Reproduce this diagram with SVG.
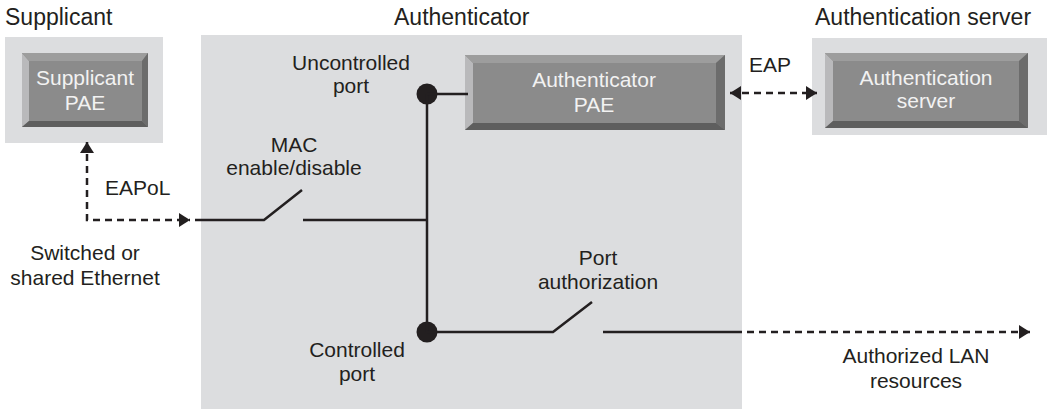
<svg xmlns="http://www.w3.org/2000/svg" width="1053" height="409" viewBox="0 0 1053 409">
<style>
.bg{fill:#dcdddf}
.face{fill:#8b8b8b}
.bl{fill:#b9b9bb}
.bt{fill:#9d9d9d}
.br{fill:#6c6c6c}
.bb{fill:#5e5e5e}
.t{font-family:"Liberation Sans",Arial,sans-serif;fill:#231f20}
.title{font-size:23px}
.lbl{font-size:21px}
.bt-txt{font-family:"Liberation Sans",Arial,sans-serif;font-size:21px;fill:#f2f2f2;text-anchor:middle}
.ln{fill:none;stroke:#231f20;stroke-width:2.5}
.dash{fill:none;stroke:#231f20;stroke-width:2.5;stroke-dasharray:7 5}
.dot{fill:#231f20}
</style>
<defs>
<marker id="ah" markerUnits="userSpaceOnUse" markerWidth="12" markerHeight="14" refX="11" refY="7" orient="auto-start-reverse">
<path d="M0,0 L11,7 L0,14 z" fill="#231f20"/>
</marker>
</defs>

<g id="supplicant">
<rect class="bg" x="5" y="37" width="158" height="106"/>
<rect class="face" x="22" y="53" width="126" height="74"/>
<polygon class="bl" points="22,53 29,61 29,121 22,127"/>
<polygon class="bt" points="22,53 148,53 142,61 29,61"/>
<polygon class="br" points="148,53 148,127 142,121 142,61"/>
<polygon class="bb" points="22,127 148,127 142,121 29,121"/>
<text class="bt-txt" x="85" y="85">Supplicant</text>
<text class="bt-txt" x="85" y="110">PAE</text>
<text class="t title" x="5" y="25">Supplicant</text>
</g>

<g id="authenticator">
<rect class="bg" x="201" y="35" width="541" height="374"/>
<text class="t title" x="394" y="25">Authenticator</text>
</g>

<g id="authenticator-pae">
<rect class="face" x="465" y="55" width="260" height="75"/>
<polygon class="bl" points="465,55 473,63 473,123 465,130"/>
<polygon class="bt" points="465,55 725,55 716,63 473,63"/>
<polygon class="br" points="725,55 725,130 716,123 716,63"/>
<polygon class="bb" points="465,130 725,130 716,123 473,123"/>
<text class="bt-txt" x="594" y="87">Authenticator</text>
<text class="bt-txt" x="594" y="112">PAE</text>
</g>

<g id="authentication-server">
<rect class="bg" x="812" y="38" width="235" height="97"/>
<rect class="face" x="825" y="53" width="203" height="75"/>
<polygon class="bl" points="825,53 833,61 833,121 825,128"/>
<polygon class="bt" points="825,53 1028,53 1019,61 833,61"/>
<polygon class="br" points="1028,53 1028,128 1019,121 1019,61"/>
<polygon class="bb" points="825,128 1028,128 1019,121 833,121"/>
<text class="bt-txt" x="926" y="85">Authentication</text>
<text class="bt-txt" x="926" y="108">server</text>
<text class="t title" x="815" y="25">Authentication server</text>
</g>

<g id="uncontrolled-port">
<circle class="dot" cx="427" cy="94" r="10.5"/>
<text class="t lbl" x="351" y="70" text-anchor="middle">Uncontrolled</text>
<text class="t lbl" x="351" y="93" text-anchor="middle">port</text>
</g>

<g id="controlled-port">
<circle class="dot" cx="427" cy="332" r="10.5"/>
<text class="t lbl" x="357" y="357" text-anchor="middle">Controlled</text>
<text class="t lbl" x="357" y="381" text-anchor="middle">port</text>
</g>

<g id="mac-switch">
<text class="t lbl" x="294" y="152" text-anchor="middle">MAC</text>
<text class="t lbl" x="294" y="175" text-anchor="middle">enable/disable</text>
</g>

<g id="port-authorization">
<text class="t lbl" x="598" y="265" text-anchor="middle">Port</text>
<text class="t lbl" x="598" y="289" text-anchor="middle">authorization</text>
</g>

<g id="ethernet">
<text class="t lbl" x="85" y="260" text-anchor="middle">Switched or</text>
<text class="t lbl" x="85" y="285" text-anchor="middle">shared Ethernet</text>
</g>

<g id="lan">
<text class="t lbl" x="916" y="363" text-anchor="middle">Authorized LAN</text>
<text class="t lbl" x="916" y="388" text-anchor="middle">resources</text>
</g>

<g id="connectors">
<path class="ln" d="M427,94 V332"/>
<path class="ln" d="M427,94 H468"/>
<path class="ln" d="M195,220 H264 L302,190"/>
<path class="ln" d="M303,220 H427"/>
<path class="ln" d="M427,332 H553 L592,302"/>
<path class="ln" d="M603,332 H735"/>
<path class="dash" d="M87,142 V220 H190" marker-start="url(#ah)" marker-end="url(#ah)"/>
<path class="dash" d="M730,93 H817" marker-start="url(#ah)" marker-end="url(#ah)"/>
<path class="dash" d="M735,332 H1030" marker-end="url(#ah)"/>
<text class="t lbl" x="105" y="195">EAPoL</text>
<text class="t lbl" x="770" y="72" text-anchor="middle">EAP</text>
</g>
</svg>
